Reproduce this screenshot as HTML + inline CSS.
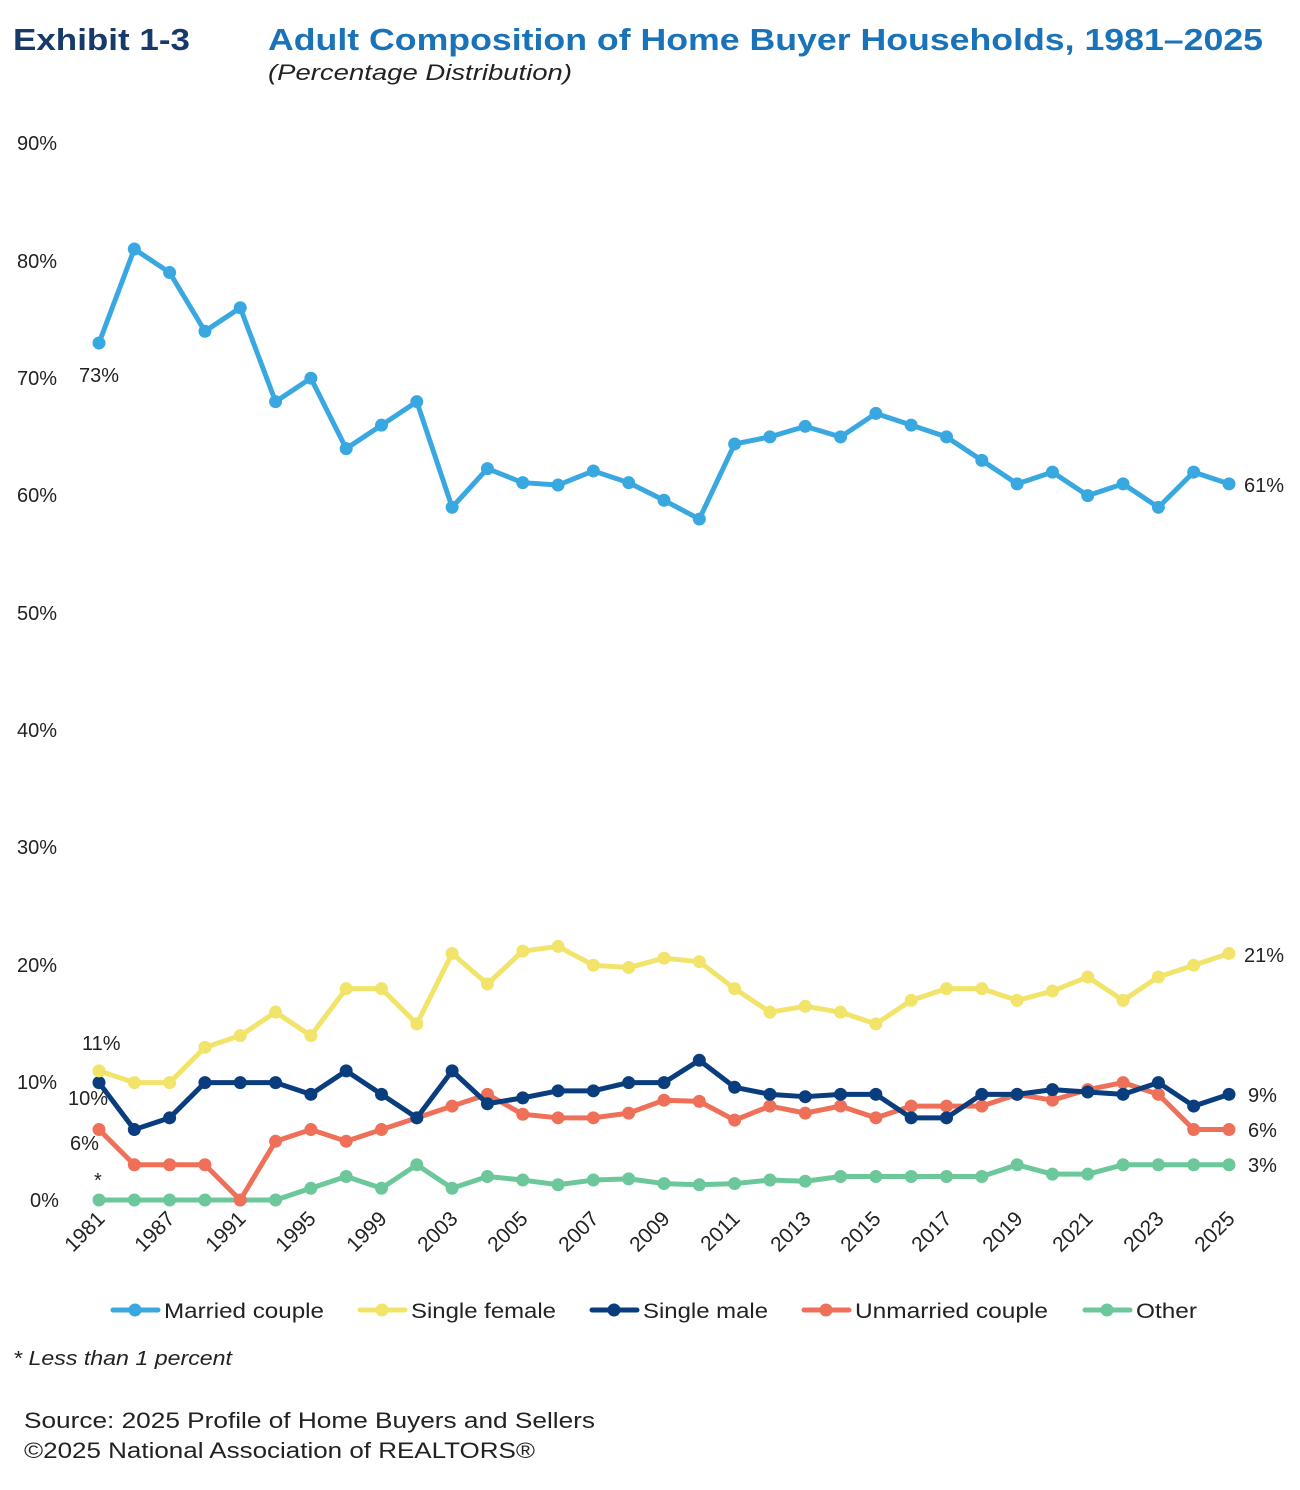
<!DOCTYPE html>
<html><head><meta charset="utf-8"><style>
body{margin:0;background:#fff;width:1300px;height:1485px;overflow:hidden;font-family:"Liberation Sans",sans-serif}
</style></head><body>
<svg width="1300" height="1485" xmlns="http://www.w3.org/2000/svg" font-family="Liberation Sans, sans-serif">
<text x="13" y="50" font-size="31" font-weight="bold" fill="#173a6a" textLength="177" lengthAdjust="spacingAndGlyphs">Exhibit 1-3</text>
<text x="268" y="50" font-size="31" font-weight="bold" fill="#1a73b8" textLength="995" lengthAdjust="spacingAndGlyphs">Adult Composition of Home Buyer Households, 1981–2025</text>
<text x="268" y="80" font-size="22" font-style="italic" fill="#222" textLength="304" lengthAdjust="spacingAndGlyphs">(Percentage Distribution)</text>
<g font-size="20" fill="#222">
<text x="17" y="150">90%</text><text x="17" y="268">80%</text><text x="17" y="385">70%</text>
<text x="17" y="502">60%</text><text x="17" y="620">50%</text><text x="17" y="737">40%</text>
<text x="17" y="854">30%</text><text x="17" y="972">20%</text><text x="17" y="1089">10%</text>
<text x="30" y="1207">0%</text>
</g>
<g font-size="21" fill="#222" text-anchor="end">
<text transform="translate(106,1220) rotate(-45)">1981</text>
<text transform="translate(176,1220) rotate(-45)">1987</text>
<text transform="translate(247,1220) rotate(-45)">1991</text>
<text transform="translate(317,1220) rotate(-45)">1995</text>
<text transform="translate(388,1220) rotate(-45)">1999</text>
<text transform="translate(459,1220) rotate(-45)">2003</text>
<text transform="translate(529,1220) rotate(-45)">2005</text>
<text transform="translate(600,1220) rotate(-45)">2007</text>
<text transform="translate(671,1220) rotate(-45)">2009</text>
<text transform="translate(741,1220) rotate(-45)">2011</text>
<text transform="translate(812,1220) rotate(-45)">2013</text>
<text transform="translate(882,1220) rotate(-45)">2015</text>
<text transform="translate(953,1220) rotate(-45)">2017</text>
<text transform="translate(1024,1220) rotate(-45)">2019</text>
<text transform="translate(1094,1220) rotate(-45)">2021</text>
<text transform="translate(1165,1220) rotate(-45)">2023</text>
<text transform="translate(1236,1220) rotate(-45)">2025</text>
</g>
<g transform="translate(99,1200) scale(35.3125,-11.74)" fill="none" stroke-linejoin="round" stroke-linecap="round">
<g stroke="#6cc79a">
<polyline vector-effect="non-scaling-stroke" stroke-width="5" points="0,0 1,0 2,0 3,0 4,0 5,0 6,1 7,2 8,1 9,3 10,1 11,2 12,1.7 13,1.3 14,1.7 15,1.8 16,1.4 17,1.3 18,1.4 19,1.7 20,1.6 21,2 22,2 23,2 24,2 25,2 26,3 27,2.2 28,2.2 29,3 30,3 31,3 32,3"/>
<path vector-effect="non-scaling-stroke" stroke-width="13" d="M0 0h0M1 0h0M2 0h0M3 0h0M4 0h0M5 0h0M6 1h0M7 2h0M8 1h0M9 3h0M10 1h0M11 2h0M12 1.7h0M13 1.3h0M14 1.7h0M15 1.8h0M16 1.4h0M17 1.3h0M18 1.4h0M19 1.7h0M20 1.6h0M21 2h0M22 2h0M23 2h0M24 2h0M25 2h0M26 3h0M27 2.2h0M28 2.2h0M29 3h0M30 3h0M31 3h0M32 3h0"/>
</g>
<g stroke="#ef7059">
<polyline vector-effect="non-scaling-stroke" stroke-width="5" points="0,6 1,3 2,3 3,3 4,0 5,5 6,6 7,5 8,6 9,7 10,8 11,9 12,7.3 13,7 14,7 15,7.4 16,8.5 17,8.4 18,6.8 19,8 20,7.4 21,8 22,7 23,8 24,8 25,8 26,9 27,8.5 28,9.4 29,10 30,9 31,6 32,6"/>
<path vector-effect="non-scaling-stroke" stroke-width="13" d="M0 6h0M1 3h0M2 3h0M3 3h0M4 0h0M5 5h0M6 6h0M7 5h0M8 6h0M9 7h0M10 8h0M11 9h0M12 7.3h0M13 7h0M14 7h0M15 7.4h0M16 8.5h0M17 8.4h0M18 6.8h0M19 8h0M20 7.4h0M21 8h0M22 7h0M23 8h0M24 8h0M25 8h0M26 9h0M27 8.5h0M28 9.4h0M29 10h0M30 9h0M31 6h0M32 6h0"/>
</g>
<g stroke="#0a3d7d">
<polyline vector-effect="non-scaling-stroke" stroke-width="5" points="0,10 1,6 2,7 3,10 4,10 5,10 6,9 7,11 8,9 9,7 10,11 11,8.2 12,8.7 13,9.3 14,9.3 15,10 16,10 17,11.9 18,9.6 19,9 20,8.8 21,9 22,9 23,7 24,7 25,9 26,9 27,9.4 28,9.2 29,9 30,10 31,8 32,9"/>
<path vector-effect="non-scaling-stroke" stroke-width="13" d="M0 10h0M1 6h0M2 7h0M3 10h0M4 10h0M5 10h0M6 9h0M7 11h0M8 9h0M9 7h0M10 11h0M11 8.2h0M12 8.7h0M13 9.3h0M14 9.3h0M15 10h0M16 10h0M17 11.9h0M18 9.6h0M19 9h0M20 8.8h0M21 9h0M22 9h0M23 7h0M24 7h0M25 9h0M26 9h0M27 9.4h0M28 9.2h0M29 9h0M30 10h0M31 8h0M32 9h0"/>
</g>
<g stroke="#f2e46a">
<polyline vector-effect="non-scaling-stroke" stroke-width="5" points="0,11 1,10 2,10 3,13 4,14 5,16 6,14 7,18 8,18 9,15 10,21 11,18.4 12,21.2 13,21.6 14,20 15,19.8 16,20.6 17,20.3 18,18 19,16 20,16.5 21,16 22,15 23,17 24,18 25,18 26,17 27,17.8 28,19 29,17 30,19 31,20 32,21"/>
<path vector-effect="non-scaling-stroke" stroke-width="13" d="M0 11h0M1 10h0M2 10h0M3 13h0M4 14h0M5 16h0M6 14h0M7 18h0M8 18h0M9 15h0M10 21h0M11 18.4h0M12 21.2h0M13 21.6h0M14 20h0M15 19.8h0M16 20.6h0M17 20.3h0M18 18h0M19 16h0M20 16.5h0M21 16h0M22 15h0M23 17h0M24 18h0M25 18h0M26 17h0M27 17.8h0M28 19h0M29 17h0M30 19h0M31 20h0M32 21h0"/>
</g>
<g stroke="#3aa8e0">
<polyline vector-effect="non-scaling-stroke" stroke-width="5" points="0,73 1,81 2,79 3,74 4,76 5,68 6,70 7,64 8,66 9,68 10,59 11,62.3 12,61.1 13,60.9 14,62.1 15,61.1 16,59.6 17,58 18,64.4 19,65 20,65.9 21,65 22,67 23,66 24,65 25,63 26,61 27,62 28,60 29,61 30,59 31,62 32,61"/>
<path vector-effect="non-scaling-stroke" stroke-width="13" d="M0 73h0M1 81h0M2 79h0M3 74h0M4 76h0M5 68h0M6 70h0M7 64h0M8 66h0M9 68h0M10 59h0M11 62.3h0M12 61.1h0M13 60.9h0M14 62.1h0M15 61.1h0M16 59.6h0M17 58h0M18 64.4h0M19 65h0M20 65.9h0M21 65h0M22 67h0M23 66h0M24 65h0M25 63h0M26 61h0M27 62h0M28 60h0M29 61h0M30 59h0M31 62h0M32 61h0"/>
</g>
</g>
<g font-size="20" fill="#222">
<text x="79" y="382">73%</text><text x="1244" y="492">61%</text><text x="1244" y="962">21%</text>
<text x="82" y="1050">11%</text><text x="68" y="1105">10%</text><text x="70" y="1150">6%</text>
<text x="94" y="1187">*</text>
<text x="1248" y="1102">9%</text><text x="1248" y="1137">6%</text><text x="1248" y="1172">3%</text>
</g>
<g stroke-width="5" stroke-linecap="round" font-size="21" fill="#222">
<line x1="113" y1="1310" x2="158" y2="1310" stroke="#3aa8e0"/><circle cx="135" cy="1310" r="6.5" fill="#3aa8e0"/><text x="164" y="1318" textLength="160" lengthAdjust="spacingAndGlyphs">Married couple</text>
<line x1="360" y1="1310" x2="405" y2="1310" stroke="#f2e46a"/><circle cx="382" cy="1310" r="6.5" fill="#f2e46a"/><text x="411" y="1318" textLength="145" lengthAdjust="spacingAndGlyphs">Single female</text>
<line x1="592" y1="1310" x2="637" y2="1310" stroke="#0a3d7d"/><circle cx="614" cy="1310" r="6.5" fill="#0a3d7d"/><text x="643" y="1318" textLength="125" lengthAdjust="spacingAndGlyphs">Single male</text>
<line x1="804" y1="1310" x2="849" y2="1310" stroke="#ef7059"/><circle cx="826" cy="1310" r="6.5" fill="#ef7059"/><text x="855" y="1318" textLength="193" lengthAdjust="spacingAndGlyphs">Unmarried couple</text>
<line x1="1085" y1="1310" x2="1130" y2="1310" stroke="#6cc79a"/><circle cx="1107" cy="1310" r="6.5" fill="#6cc79a"/><text x="1136" y="1318" textLength="61" lengthAdjust="spacingAndGlyphs">Other</text>
</g>
<text x="13" y="1365" font-size="20" font-style="italic" fill="#222" textLength="219" lengthAdjust="spacingAndGlyphs">* Less than 1 percent</text>
<text x="24" y="1428" font-size="22" fill="#222" textLength="571" lengthAdjust="spacingAndGlyphs">Source: 2025 Profile of Home Buyers and Sellers</text>
<text x="24" y="1458" font-size="22" fill="#222" textLength="511" lengthAdjust="spacingAndGlyphs">©2025 National Association of REALTORS®</text>
</svg>
</body></html>
